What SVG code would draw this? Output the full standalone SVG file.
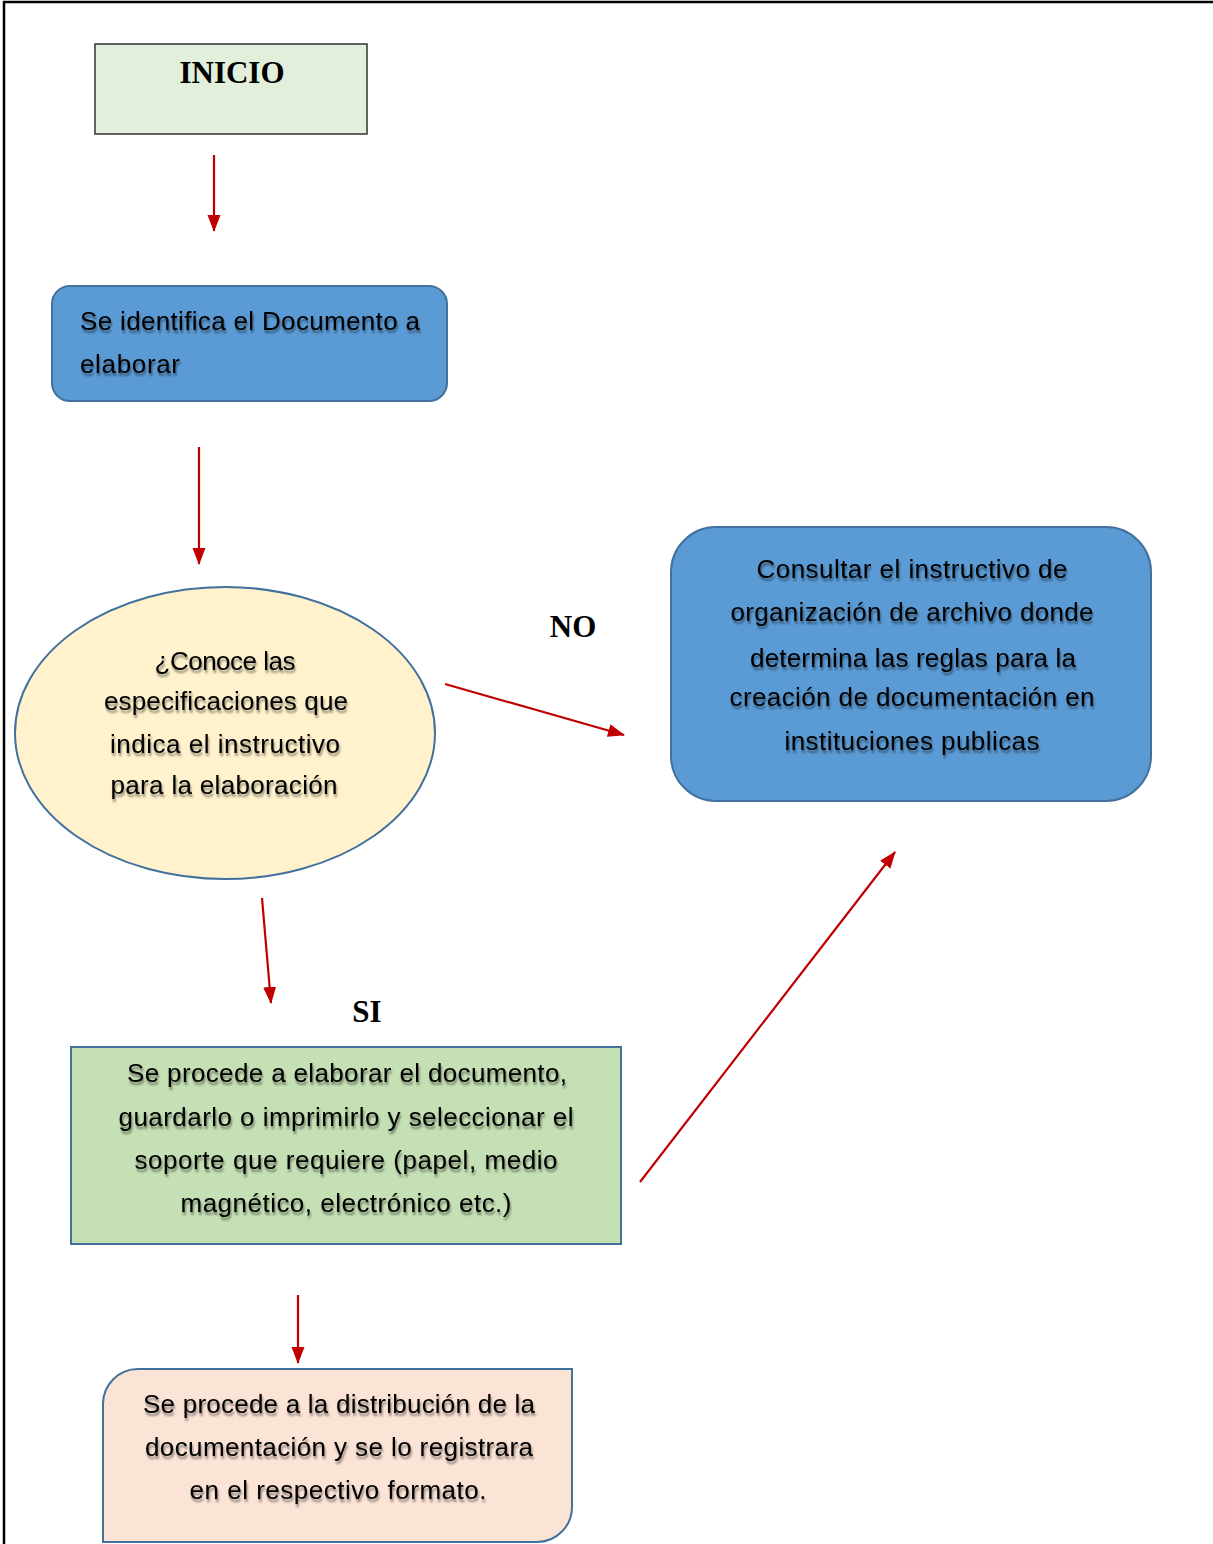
<svg xmlns="http://www.w3.org/2000/svg" width="1213" height="1544" viewBox="0 0 1213 1544">
<style>
.t{font-family:"Liberation Sans",Arial,sans-serif;font-size:26px;fill:#000;filter:url(#sh)}
.b{font-family:"Liberation Serif","Times New Roman",serif;font-weight:bold;font-size:31px;fill:#000}
.c{stroke:#c00000;stroke-width:2.2;fill:none;marker-end:url(#ah)}
</style>
<defs>
<marker id="ah" markerUnits="userSpaceOnUse" markerWidth="18" markerHeight="14" refX="16" refY="7" orient="auto">
<path d="M0,0.5 L17,7 L0,13.5 z" fill="#c00000"/>
</marker>
<filter id="sh" x="-5%" y="-30%" width="110%" height="170%">
<feDropShadow dx="1" dy="3" stdDeviation="1.3" flood-color="#000" flood-opacity="0.45"/>
</filter>
</defs>
<rect width="1213" height="1544" fill="#fff"/>
<path d="M4,1544 V2 H1213" fill="none" stroke="#000" stroke-width="2.5"/>

<g id="inicio">
<rect x="95" y="44" width="272" height="90" fill="#e2efda" stroke="#333" stroke-width="1.5"/>
<text class="b" x="232" y="83" text-anchor="middle">INICIO</text>
</g>

<g id="identifica">
<rect x="52" y="286" width="395" height="115" rx="18" fill="#5b9bd5" stroke="#41719c" stroke-width="2"/>
<text class="t" x="80" y="330" textLength="340">Se identifica el Documento a</text>
<text class="t" x="80" y="373" textLength="100">elaborar</text>
</g>

<g id="conoce">
<ellipse cx="225" cy="733" rx="210" ry="146" fill="#fff2cc" stroke="#41719c" stroke-width="2"/>
<text class="t" text-anchor="middle" x="225" y="670" textLength="141">¿Conoce las</text>
<text class="t" text-anchor="middle" x="226" y="710" textLength="244">especificaciones que</text>
<text class="t" text-anchor="middle" x="225" y="753" textLength="230">indica el instructivo</text>
<text class="t" text-anchor="middle" x="224" y="794" textLength="227">para la elaboración</text>
</g>

<g id="consultar">
<rect x="671" y="527" width="480" height="274" rx="45" fill="#5b9bd5" stroke="#41719c" stroke-width="2"/>
<text class="t" text-anchor="middle" x="912" y="578" textLength="311">Consultar el instructivo de</text>
<text class="t" text-anchor="middle" x="912" y="621" textLength="363">organización de archivo donde</text>
<text class="t" text-anchor="middle" x="913" y="667" textLength="326">determina las reglas para la</text>
<text class="t" text-anchor="middle" x="912" y="706" textLength="365">creación de documentación en</text>
<text class="t" text-anchor="middle" x="912" y="750" textLength="255">instituciones publicas</text>
</g>

<g id="elaborar">
<rect x="71" y="1047" width="550" height="197" fill="#c5e0b4" stroke="#41719c" stroke-width="2"/>
<text class="t" text-anchor="middle" x="347" y="1082" textLength="440">Se procede a elaborar el documento,</text>
<text class="t" text-anchor="middle" x="346" y="1126" textLength="455">guardarlo o imprimirlo y seleccionar el</text>
<text class="t" text-anchor="middle" x="346" y="1169" textLength="423">soporte que requiere (papel, medio</text>
<text class="t" text-anchor="middle" x="346" y="1212" textLength="331">magnético, electrónico etc.)</text>
</g>

<g id="distribucion">
<path d="M138,1369 H572 V1507 A35,35 0 0 1 537,1542 H103 V1404 A35,35 0 0 1 138,1369 Z" fill="#fbe3d6" stroke="#41719c" stroke-width="2"/>
<text class="t" text-anchor="middle" x="339" y="1413" textLength="392">Se procede a la distribución de la</text>
<text class="t" text-anchor="middle" x="339" y="1456" textLength="388">documentación y se lo registrara</text>
<text class="t" text-anchor="middle" x="338" y="1499" textLength="297">en el respectivo formato.</text>
</g>

<g id="labels">
<text class="b" x="573" y="637" text-anchor="middle">NO</text>
<text class="b" x="367" y="1022" text-anchor="middle">SI</text>
</g>

<g id="connectors">
<line class="c" x1="214" y1="155" x2="214" y2="231"/>
<line class="c" x1="199" y1="447" x2="199" y2="564"/>
<line class="c" x1="445" y1="684" x2="624" y2="735"/>
<line class="c" x1="262" y1="898" x2="271" y2="1003"/>
<line class="c" x1="640" y1="1182" x2="895" y2="852"/>
<line class="c" x1="298" y1="1295" x2="298" y2="1363"/>
</g>
</svg>
